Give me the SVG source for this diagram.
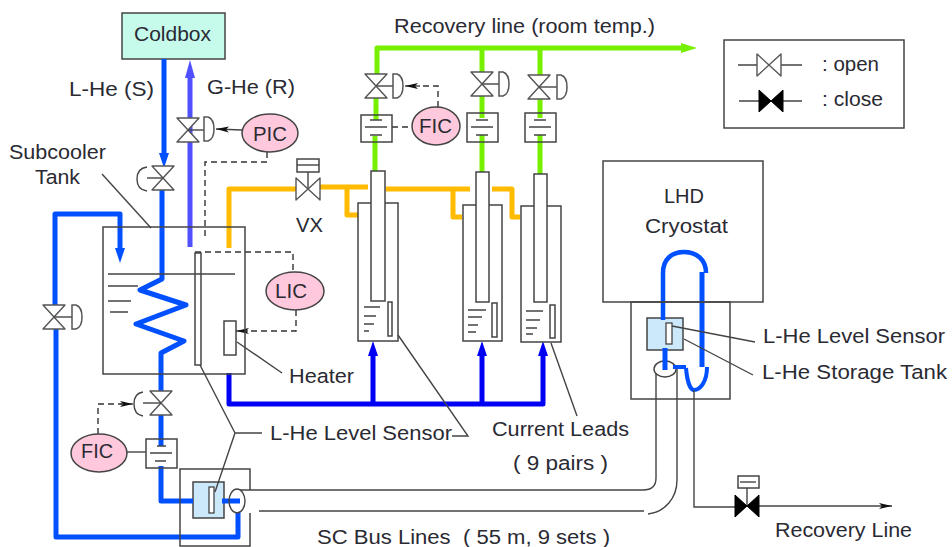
<svg xmlns="http://www.w3.org/2000/svg" width="952" height="547" viewBox="0 0 952 547">
<style>
text{font-family:"Liberation Sans",Arial,sans-serif;font-size:20.5px;fill:#2a2a33}
.l{fill:none;stroke:#444;stroke-width:1.4}
.box{fill:none;stroke:#444;stroke-width:1.5}
.wbox{fill:#fff;stroke:#444;stroke-width:1.5}
.d{fill:none;stroke:#333;stroke-width:1.4;stroke-dasharray:6 4}
.ic{fill:#ffc8dc;stroke:#444;stroke-width:1.5}
.v{fill:#fff;stroke:#555;stroke-width:1.4;stroke-linejoin:round}
.a{fill:#fff;stroke:#555;stroke-width:1.5}
.k{fill:#000;stroke:#000;stroke-width:1}
.blue,.dblue,.gas,.green,.or{fill:none;stroke-width:5;stroke-linejoin:round}
.blue{stroke:#0050ff}
.dblue{stroke:#0000f5}
.gas{stroke:#5050ff}
.green{stroke:#77f000}
.or{stroke:#ffbb00}
</style>
<defs>
<marker id="hb" markerUnits="userSpaceOnUse" markerWidth="16" markerHeight="12" refX="0" refY="6" orient="auto"><path d="M0 1L15 6L0 11Z" fill="#0050ff"/></marker>
<marker id="hd" markerUnits="userSpaceOnUse" markerWidth="16" markerHeight="12" refX="0" refY="6" orient="auto"><path d="M0 1L15 6L0 11Z" fill="#0000f5"/></marker>
<marker id="hg" markerUnits="userSpaceOnUse" markerWidth="19" markerHeight="12" refX="0" refY="6" orient="auto"><path d="M0 1L18 6L0 11Z" fill="#5050ff"/></marker>
<marker id="hn" markerUnits="userSpaceOnUse" markerWidth="17" markerHeight="12" refX="0" refY="6" orient="auto"><path d="M0 1L16 6L0 11Z" fill="#77f000"/></marker>
<marker id="hk" markerUnits="userSpaceOnUse" markerWidth="14" markerHeight="8" refX="13" refY="4" orient="auto"><path d="M0 1L13 4L0 7L3 4Z" fill="#111"/></marker>
<path id="valve" class="v" d="M-11-12H11L-11 12H11Z"/>
<path id="valveh" class="v" d="M-12-11V11L12-11V11Z"/>
<path id="closed" class="k" d="M-12-11V11L12-11V11Z"/>
<path id="act" class="a" d="M0-12H4Q10-10 10 0Q10 10 4 12H0Z"/>
<path id="flow" class="l" d="M-11 0H11M-6-7H6M-6 8H6"/>
</defs>

<g id="coldbox"><rect x="122" y="13" width="103" height="46" fill="#c6fbec" stroke="#444" stroke-width="1.5"/><text x="134" y="41" textLength="77" lengthAdjust="spacingAndGlyphs">Coldbox</text></g>
<g id="storage-tank"><rect x="647" y="318" width="36" height="32" fill="#cce8fb" stroke="#444" stroke-width="1.5"/></g>
<g id="sc-junction-tank"><rect x="193" y="482" width="31" height="36" fill="#cce8fb" stroke="#444" stroke-width="1.5"/></g>
<g id="pipe-top"><ellipse cx="665" cy="369" rx="11" ry="8" fill="#fff" stroke="#444" stroke-width="1.4"/></g>

<g id="connectors">
<path class="blue" d="M164 59V153" marker-end="url(#hb)"/>
<path class="blue" d="M162 188V279L140 290L186 305L136 324L184 341L161 353V396"/>
<path class="blue" d="M161 413V446"/>
<path class="blue" d="M161 466V501H193"/>
<path class="blue" d="M222 501H240"/>
<path class="blue" d="M238 512V537H56V325"/>
<path class="blue" d="M55 308V214H120V248" marker-end="url(#hb)"/>
<path class="gas" d="M190 247V78" marker-end="url(#hg)"/>
<path class="or" d="M229 248V189H296"/>
<path class="or" d="M320 187H368M347 187V215H358"/>
<path class="or" d="M386 189H470M453 189V217H462"/>
<path class="or" d="M492 189H512V217H520"/>
<path class="green" d="M377 75V48H681" marker-end="url(#hn)"/>
<path class="green" d="M482 48V72M540 48V75"/>
<path class="green" d="M376 98V120M375 136V171"/>
<path class="green" d="M482 96V118M482 135V172"/>
<path class="green" d="M540 99V118M540 135V174"/>
<path class="dblue" d="M229 373V404H543V356" marker-end="url(#hd)"/>
<path class="dblue" d="M373 404V356" marker-end="url(#hd)"/>
<path class="dblue" d="M482 404V356" marker-end="url(#hd)"/>
<path class="blue" style="stroke-width:4.5" d="M663 320V273C663 259 672 252 684 252C696 252 706 259 706 273"/>
<path class="blue" d="M702 272V367"/>
<path class="blue" style="stroke-width:4" d="M673 367H686M686 368C687 380 690 390 694 390C700 390 707 382 707 367"/>
<path class="blue" d="M665 348V370"/>

<path class="l" d="M102 174L151 228"/>
<path class="l" d="M200 365L235 433L215 492M235 433H262"/>
<path class="l" d="M398 335L468 436H452"/>
<path class="l" d="M551 343L577 416"/>
<path class="l" d="M237 342L282 373"/>
<path class="l" d="M672 326L755 342M684 339L753 375"/>
<path class="l" d="M240 490H643C651 490 656 486 656 478V374"/>
<path class="l" d="M259 511H644M648 514C665 512 677 498 677 480V369"/>
<path class="l" d="M694 390V507H735"/>
<path class="l" style="stroke-width:1.6" d="M759 506H892" marker-end="url(#hk)"/>

<path class="d" d="M267 152V162H205V240"/>
<path class="d" d="M293 270V252H195"/>
<path class="d" d="M296 310V331H246"/>
<path class="l" d="M248 331H236" marker-end="url(#hk)"/>
<path class="d" d="M98 434V404H122"/>
<path class="l" d="M120 404H133" marker-end="url(#hk)"/>
<path class="d" d="M438 107V86H420"/>
<path class="l" d="M420 86H405" marker-end="url(#hk)"/>
<path class="d" d="M392 127H412"/>
<path class="l" d="M242 130L216 129" marker-end="url(#hk)"/>
<path class="l" d="M127 452H146"/>
</g>

<g id="subcooler-tank"><rect class="box" x="103" y="227" width="142" height="147"/><path class="l" d="M108 274H235M108 286H138M108 301H131M110 312H128"/><text x="9" y="159" textLength="97" lengthAdjust="spacingAndGlyphs">Subcooler</text><text x="35" y="184" textLength="45" lengthAdjust="spacingAndGlyphs">Tank</text></g>
<g id="level-sensor-subcooler"><rect class="box" x="195" y="253" width="6" height="112"/></g>
<g id="heater"><rect class="box" x="224" y="321" width="12" height="34"/><text x="289" y="383" textLength="65" lengthAdjust="spacingAndGlyphs">Heater</text></g>
<g id="label-lhe-sensor"><text x="270" y="440" textLength="182" lengthAdjust="spacingAndGlyphs">L-He Level Sensor</text></g>
<g id="pic"><ellipse class="ic" cx="270" cy="133" rx="28" ry="19"/><text x="253" y="141" textLength="34" lengthAdjust="spacingAndGlyphs">PIC</text></g>
<g id="lic"><ellipse class="ic" cx="295" cy="291" rx="29" ry="19"/><text x="275" y="298" textLength="32" lengthAdjust="spacingAndGlyphs">LIC</text></g>
<g id="fic-lower"><ellipse class="ic" cx="99" cy="453" rx="28" ry="19"/><text x="81" y="458" textLength="32" lengthAdjust="spacingAndGlyphs">FIC</text></g>
<g id="fic-upper"><ellipse class="ic" cx="436" cy="126" rx="24" ry="19"/><text x="419" y="133" textLength="33" lengthAdjust="spacingAndGlyphs">FIC</text></g>

<g id="valve-gas"><use href="#valve" x="188" y="130"/><path class="l" d="M188 130H204"/><use href="#act" x="204" y="129"/></g>
<g id="valve-supply"><use href="#valve" x="163" y="178"/><path class="l" d="M147 178H163"/><path class="l" d="M147 167C139 168 137 173 137 179C137 185 139 190 147 191"/></g>
<g id="valve-left"><use href="#valve" x="54" y="317"/><path class="l" d="M54 317H72"/><use href="#act" x="72" y="317"/></g>
<g id="valve-lower"><use href="#valve" x="161" y="403"/><path class="l" d="M143 403H161"/><path class="l" d="M143 392C136 393 134 398 134 404C134 410 136 415 143 416"/></g>
<g id="flow-lower"><rect class="box" x="146" y="439" width="31" height="29"/><path class="l" d="M157 446H166M150 453H172M155 461H166"/></g>
<g id="sc-box"><path class="box" d="M250 490V469H180V546H250V513"/><rect x="209" y="487" width="5" height="26" fill="#fff" stroke="#444" stroke-width="1.3"/><ellipse cx="237" cy="501" rx="8" ry="12" fill="none" stroke="#444" stroke-width="1.4"/></g>
<g id="valve-vx"><path class="l" d="M308 189V172"/><use href="#valveh" x="308" y="189"/><rect class="box" x="297" y="159" width="22" height="13"/><path class="l" d="M297 165H319"/><text x="296" y="232" textLength="27" lengthAdjust="spacingAndGlyphs">VX</text></g>

<g id="lead-1"><rect class="box" x="358" y="203" width="40" height="138"/><rect class="wbox" x="371" y="171" width="14" height="130"/><rect class="box" x="388" y="302" width="4" height="34"/><path class="l" d="M364 307H380M364 316H376M364 324H374M364 331H369"/></g>
<g id="lead-2"><rect class="box" x="463" y="205" width="39" height="136"/><rect class="wbox" x="476" y="172" width="13" height="130"/><rect class="box" x="492" y="303" width="5" height="34"/><path class="l" d="M468 310H486M468 317H482M468 325H478M468 332H476"/></g>
<g id="lead-3"><rect class="box" x="521" y="206" width="40" height="136"/><rect class="wbox" x="534" y="174" width="13" height="128"/><rect class="box" x="550" y="305" width="5" height="33"/><path class="l" d="M526 311H543M526 320H540M526 328H537M526 334H533"/></g>
<g id="valve-1"><use href="#valve" x="376" y="86"/><path class="l" d="M376 86H393"/><use href="#act" x="393" y="86"/><rect class="box" x="361" y="115" width="31" height="27"/><use href="#flow" x="376" y="127"/></g>
<g id="valve-2"><use href="#valve" x="482" y="84"/><path class="l" d="M482 84H499"/><use href="#act" x="499" y="84"/><rect class="box" x="467" y="113" width="31" height="29"/><use href="#flow" x="482" y="127"/></g>
<g id="valve-3"><use href="#valve" x="539" y="87"/><path class="l" d="M539 87H557"/><use href="#act" x="557" y="87"/><rect class="box" x="525" y="113" width="31" height="29"/><use href="#flow" x="540" y="127"/></g>

<g id="labels">
<text x="69" y="96" textLength="85" lengthAdjust="spacingAndGlyphs">L-He (S)</text>
<text x="207" y="94" textLength="88" lengthAdjust="spacingAndGlyphs">G-He (R)</text>
<text x="394" y="33" textLength="261" lengthAdjust="spacingAndGlyphs">Recovery line (room temp.)</text>
<text x="492" y="436" textLength="137" lengthAdjust="spacingAndGlyphs">Current Leads</text>
<text x="513" y="470" textLength="95" lengthAdjust="spacingAndGlyphs" xml:space="preserve">( 9 pairs )</text>
<text x="317" y="544" textLength="293" lengthAdjust="spacingAndGlyphs" xml:space="preserve">SC Bus Lines  ( 55 m, 9 sets )</text>
</g>
<g id="cryostat"><rect class="box" x="603" y="161" width="160" height="141"/><rect class="box" x="631" y="302" width="99" height="97"/><rect x="666" y="323" width="6" height="21" fill="#fff" stroke="#444" stroke-width="1.3"/><text x="664" y="203" textLength="40" lengthAdjust="spacingAndGlyphs">LHD</text><text x="645" y="233" textLength="83" lengthAdjust="spacingAndGlyphs">Cryostat</text><text x="763" y="343" textLength="182" lengthAdjust="spacingAndGlyphs">L-He Level Sensor</text><text x="762" y="379" textLength="185" lengthAdjust="spacingAndGlyphs">L-He Storage Tank</text></g>
<g id="valve-recovery"><path class="l" d="M747 506V488"/><use href="#closed" x="747" y="506"/><rect class="box" x="738" y="476" width="21" height="12"/><path class="l" d="M740 482H756"/><text x="775" y="537" textLength="137" lengthAdjust="spacingAndGlyphs">Recovery Line</text></g>
<g id="legend"><rect class="box" x="724" y="40" width="180" height="88"/><path class="l" d="M738 65H757M781 65H802M739 101H802"/><use href="#valveh" x="769" y="65"/><use href="#closed" x="771" y="101"/><text x="822" y="71" textLength="57" lengthAdjust="spacingAndGlyphs">: open</text><text x="822" y="106" textLength="61" lengthAdjust="spacingAndGlyphs">: close</text></g>
</svg>
